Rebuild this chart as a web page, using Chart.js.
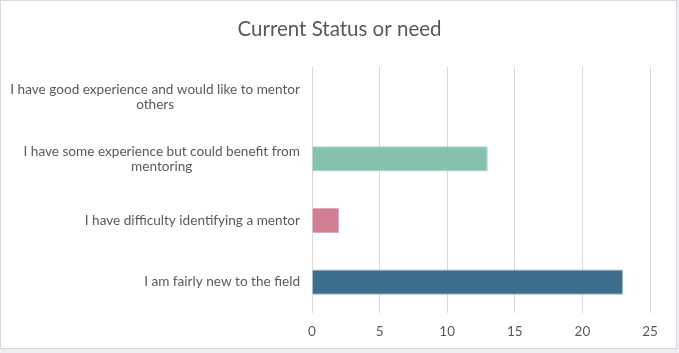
<!DOCTYPE html>
<html>
<head>
<meta charset="utf-8">
<script src="https://cdn.jsdelivr.net/npm/chart.js@4"></script>
<style>
  body { margin: 0; background: #eceef1; }
  .box { position: absolute; left: 0; top: 0; width: 675px; height: 347px; border: 1px solid #d9d9d9; background: #fff; }
  canvas { position: absolute; left: 0; top: 0; }
</style>
</head>
<body>
<div class="box"></div>
<canvas id="myChart" width="679" height="353"></canvas>
<script>
// Данные графика
const categories = [
    ['I have good experience and would like to mentor', 'others'],
    ['I have some experience but could benefit from', 'mentoring'],
    ['I have difficulty identifying a mentor'],
    ['I am fairly new to the field']
];
const counts = [0, 13, 2, 23];
const barColors = ['#85c1ac', '#85c1ac', '#d07f95', '#3f6d8e'];
const barBorders = ['#a9d4c4', '#a9d4c4', '#e3a9b9', '#8fb0c8'];
const xTicks = [0, 5, 10, 15, 20, 25];

const FONT = 'Lato, "Open Sans", sans-serif';
const textColor = '#595959';

// Подписи категорий: блок прижат к оси, строки выровнены по центру
const categoryLabels = {
    id: 'categoryLabels',
    afterDraw(chart) {
        const ctx = chart.ctx;
        const yScale = chart.scales.y;
        const right = chart.chartArea.left - 12;
        ctx.save();
        ctx.font = '13.6px ' + FONT;
        ctx.fillStyle = textColor;
        ctx.textAlign = 'center';
        ctx.textBaseline = 'middle';
        const lh = 15;
        categories.forEach((lines, i) => {
            const y = yScale.getPixelForValue(i);
            const w = Math.max(...lines.map(l => ctx.measureText(l).width));
            const cx = right - w / 2;
            const y0 = y - (lines.length - 1) * lh / 2;
            lines.forEach((l, j) => ctx.fillText(l, cx, y0 + j * lh));
        });
        ctx.restore();
    }
};

const myChart = new Chart(document.getElementById('myChart'), {
    type: 'bar',
    data: {
        labels: categories,
        datasets: [{
            data: counts,
            backgroundColor: barColors,
            borderColor: barBorders,
            borderWidth: 1,
            barPercentage: 0.41,
            categoryPercentage: 1
        }]
    },
    options: {
        indexAxis: 'y',
        responsive: false,
        animation: false,
        layout: { padding: { left: 29, right: 29, top: 0, bottom: 2 } },
        plugins: {
            legend: { display: false },
            tooltip: { enabled: false },
            title: {
                display: true,
                text: 'Current Status or need',
                color: textColor,
                font: { family: FONT, size: 20.5, weight: 'normal' },
                padding: { top: 17, bottom: 25 }
            }
        },
        scales: {
            x: {
                min: 0,
                max: 25,
                afterBuildTicks: (scale) => { scale.ticks = xTicks.map(v => ({ value: v })); },
                border: { display: false },
                grid: { color: '#d9d9d9', drawTicks: false },
                ticks: { color: textColor, padding: 11, font: { family: FONT, size: 13.5 } }
            },
            y: {
                border: { display: false },
                grid: { display: false, drawTicks: false },
                ticks: { display: false },
                afterFit: (scale) => { scale.width = 283; }
            }
        }
    },
    plugins: [categoryLabels]
});
</script>
</body>
</html>
